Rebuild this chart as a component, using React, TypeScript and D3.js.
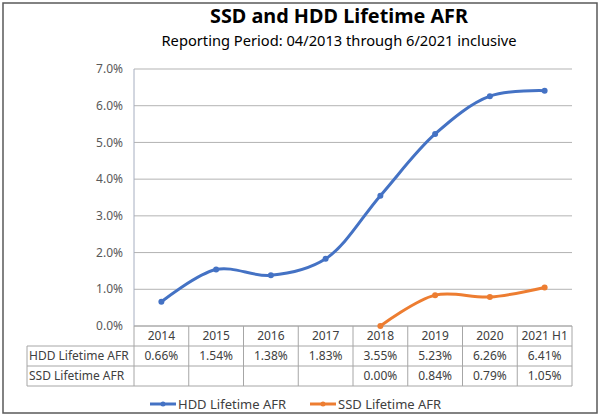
import React from "react";
import * as d3 from "d3";

const categories = ["2014", "2015", "2016", "2017", "2018", "2019", "2020", "2021 H1"];
const hddValues: (number | null)[] = [0.66, 1.54, 1.38, 1.83, 3.55, 5.23, 6.26, 6.41];
const ssdValues: (number | null)[] = [null, null, null, null, 0.0, 0.84, 0.79, 1.05];
const yTicks = [0, 1, 2, 3, 4, 5, 6, 7];
const seriesNames = ["HDD Lifetime AFR", "SSD Lifetime AFR"];
const seriesColors = ["#4472C4", "#ED7D31"];

const W = 600, H = 417;
const plotL = 134, plotR = 572, plotT = 69, plotB = 326;
const rowH = 20;
const labelL = 27;
const font = "'Noto Sans', sans-serif";

export default function App() {
  const x = d3.scaleBand<string>().domain(categories).range([plotL, plotR]).padding(0);
  const y = d3.scaleLinear().domain([0, 7]).range([plotB, plotT]);
  const cx = (c: string) => (x(c) ?? 0) + x.bandwidth() / 2;

  const line = d3
    .line<[string, number | null]>()
    .defined((d) => d[1] !== null)
    .x((d) => cx(d[0]))
    .y((d) => y(d[1] as number))
    .curve(d3.curveCatmullRom.alpha(0.5));

  const series = [hddValues, ssdValues];
  const rows = [hddValues, ssdValues];

  const fmt = (v: number) => v.toFixed(2) + "%";

  return (
    <svg width={W} height={H} style={{ position: "absolute", left: 0, top: 0, background: "#fff" }} fontFamily={font}>
      <rect x={3} y={3} width={594} height={410} fill="#fff" stroke="#595959" strokeWidth={1.5} />
      <text x={339} y={23} textAnchor="middle" fontSize={19} fontWeight={700} fill="#000" textLength={258} lengthAdjust="spacingAndGlyphs">
        SSD and HDD Lifetime AFR
      </text>
      <text x={339} y={45.5} textAnchor="middle" fontSize={14.5} fill="#000" textLength={355} lengthAdjust="spacingAndGlyphs">
        Reporting Period: 04/2013 through 6/2021 inclusive
      </text>

      {/* gridlines */}
      {yTicks.map((t) => (
        <line key={"g" + t} x1={plotL} x2={plotR} y1={y(t)} y2={y(t)} stroke="#b3b3b3" strokeWidth={1} />
      ))}
      <line x1={plotL} x2={plotL} y1={plotT} y2={plotB} stroke="#a6aec0" strokeWidth={1} />
      {yTicks.map((t) => (
        <text key={"yl" + t} x={123} y={y(t)} dy="0.35em" textAnchor="end" fontSize={12} fill="#595959">
          {t.toFixed(1) + "%"}
        </text>
      ))}

      {/* table */}
      <g stroke="#a6a6a6" strokeWidth={1} fill="none">
        <line x1={plotL} x2={plotR} y1={plotB} y2={plotB} />
        <line x1={labelL} x2={plotR} y1={plotB + rowH} y2={plotB + rowH} />
        <line x1={labelL} x2={plotR} y1={plotB + 2 * rowH} y2={plotB + 2 * rowH} />
        <line x1={labelL} x2={plotR} y1={plotB + 3 * rowH} y2={plotB + 3 * rowH} />
        <line x1={labelL} x2={labelL} y1={plotB + rowH} y2={plotB + 3 * rowH} />
        {categories.map((c) => (
          <line key={"v" + c} x1={x(c)} x2={x(c)} y1={plotB} y2={plotB + 3 * rowH} />
        ))}
        <line x1={plotR} x2={plotR} y1={plotB} y2={plotB + 3 * rowH} />
      </g>
      {categories.map((c) => (
        <text key={"h" + c} x={cx(c)} y={plotB + rowH / 2} dy="0.35em" textAnchor="middle" fontSize={12} fill="#404040">
          {c}
        </text>
      ))}
      {rows.map((vals, ri) => (
        <g key={"r" + ri}>
          <text x={labelL + 2} y={plotB + rowH * (ri + 1) + rowH / 2} dy="0.35em" fontSize={12} fill="#404040">
            {seriesNames[ri]}
          </text>
          {vals.map((v, i) =>
            v === null ? null : (
              <text key={i} x={cx(categories[i])} y={plotB + rowH * (ri + 1) + rowH / 2} dy="0.35em" textAnchor="middle" fontSize={12} fill="#404040">
                {fmt(v)}
              </text>
            )
          )}
        </g>
      ))}

      {/* lines */}
      {series.map((vals, si) => {
        const data = categories.map((c, i) => [c, vals[i]] as [string, number | null]);
        return (
          <g key={"s" + si}>
            <path d={line(data) ?? ""} fill="none" stroke={seriesColors[si]} strokeWidth={3} strokeLinecap="round" />
            {data
              .filter((d) => d[1] !== null)
              .map((d) => (
                <circle key={d[0]} cx={cx(d[0])} cy={y(d[1] as number)} r={3} fill={seriesColors[si]} />
              ))}
          </g>
        );
      })}

      {/* legend */}
      {seriesNames.map((n, i) => {
        const lx = 150 + i * 160;
        const ly = 404;
        return (
          <g key={"lg" + i}>
            <line x1={lx} x2={lx + 26} y1={ly} y2={ly} stroke={seriesColors[i]} strokeWidth={3} />
            <circle cx={lx + 13} cy={ly} r={2.5} fill={seriesColors[i]} />
            <text x={lx + 28} y={ly} dy="0.35em" fontSize={13} fill="#404040">
              {n}
            </text>
          </g>
        );
      })}
    </svg>
  );
}
